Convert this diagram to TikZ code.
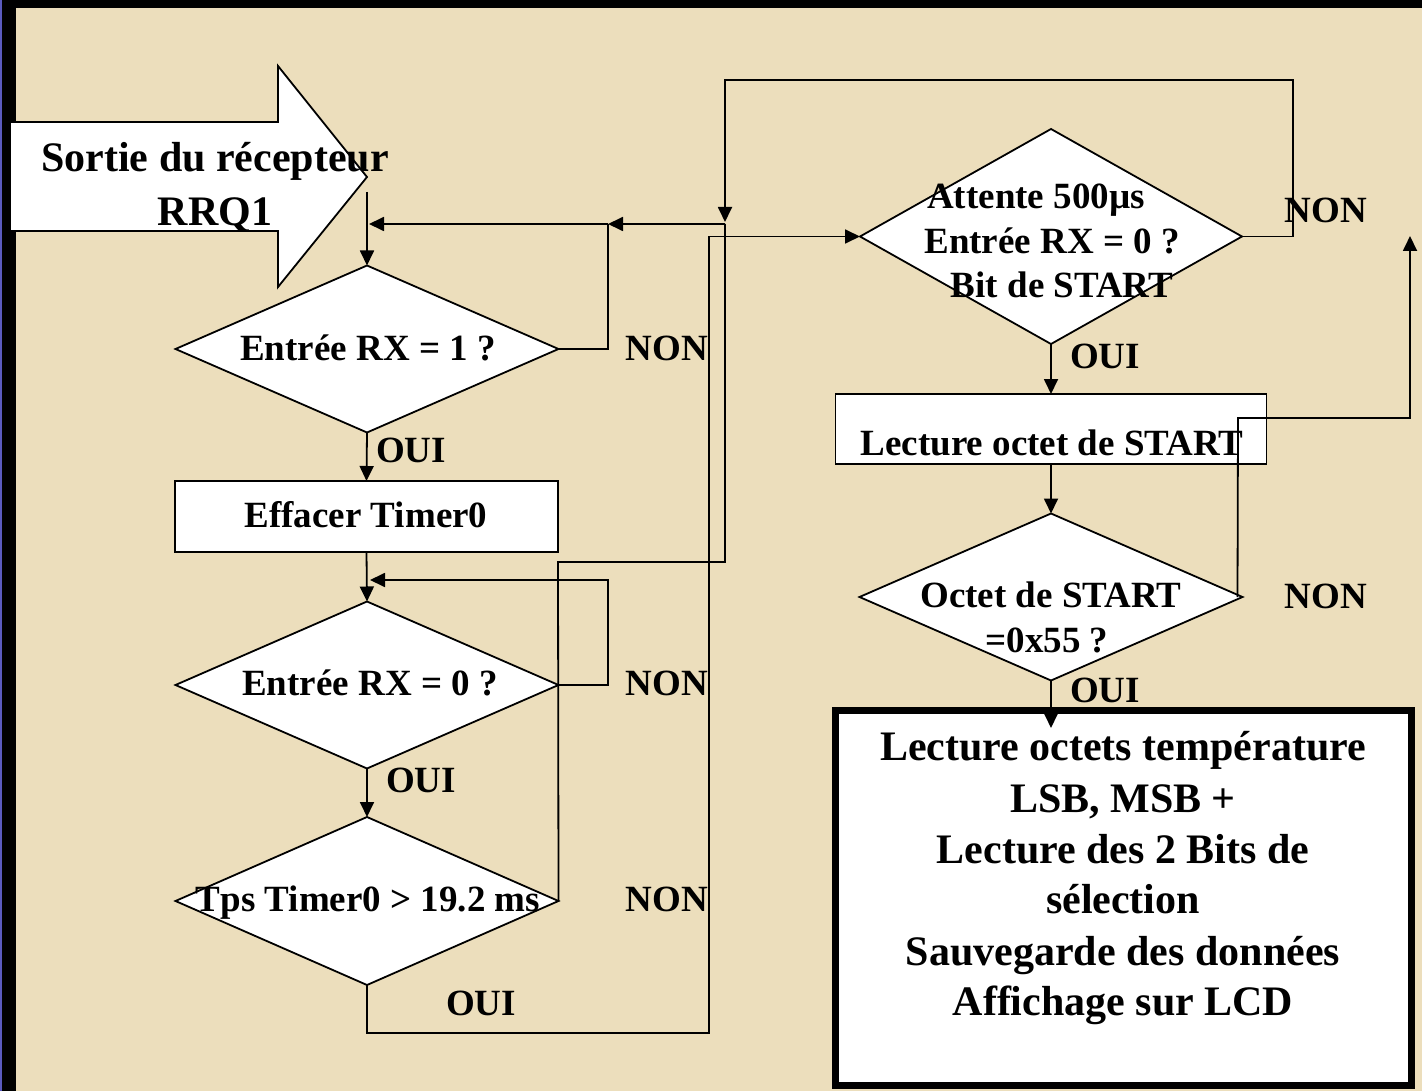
\documentclass[tikz,border=0pt]{standalone}
\usepackage{fontspec}
\setmainfont{Liberation Serif}
\usetikzlibrary{arrows.meta,shapes.geometric}
\definecolor{parch}{RGB}{236,222,188}
\definecolor{edgeblue}{RGB}{90,90,190}
\begin{document}
\begin{tikzpicture}[x=1pt,y=-1pt,
  dia/.style={diamond, draw, fill=white, line width=1.8pt, inner sep=0pt, outer sep=0pt},
  procbox/.style={rectangle, draw, fill=white, line width=1.8pt, inner sep=0pt, outer sep=0pt},
  txt/.style={font=\fontsize{37}{44}\selectfont\bfseries, inner sep=0pt, anchor=base},
  bigtxt/.style={font=\fontsize{42}{51}\selectfont\bfseries, inner sep=0pt, anchor=base},
  conn/.style={line width=1.8pt},
  arr/.style={conn, -{Triangle[length=15pt,width=14pt]}}]
% background and frame
\fill[parch] (0,0) rectangle (1422,1091);
\useasboundingbox (0,0) rectangle (1422,1091);
\fill[black] (0,0) rectangle (1422,8);
\fill[black] (0,0) rectangle (16,1091);
\fill[edgeblue] (0,0) rectangle (2,1091);
% input block arrow
\draw[fill=white, line width=1.8pt, line join=miter]
  (10,122) -- (278,122) -- (278,66) -- (367,177) -- (278,287) -- (278,231) -- (10,231) -- cycle;
% left column shapes
\node[dia, minimum width=383pt, minimum height=167pt] (d1) at (367,349) {};
\node[procbox, minimum width=383pt, minimum height=71pt] (e1) at (366.5,516.5) {};
\node[dia, minimum width=383pt, minimum height=167pt] (d2) at (367,685) {};
\node[dia, minimum width=383pt, minimum height=168pt] (d3) at (367,901) {};
% right column shapes
\node[dia, minimum width=382pt, minimum height=215pt] (d4) at (1051,236.5) {};
\node[procbox, minimum width=431pt, minimum height=70pt] (r2) at (1051,429) {};
\node[dia, minimum width=383pt, minimum height=167pt] (d5) at (1051,597) {};
\node[procbox, line width=7pt, minimum width=576pt, minimum height=375pt] (bb) at (1123,897.5) {};
% coordinates
\coordinate (s0) at (367,192);
\coordinate (j0) at (369,224);
\coordinate (j2) at (608,224);
\coordinate (j1) at (725,224);
\coordinate (bt) at (1051,728);
\coordinate (up) at (1410,236);
% connectors
\draw[arr] (s0) -- (d1.north);
\draw[conn] (d1.east) -| (j2);
\draw[arr] (j1) -- (j2);
\draw[arr] (j2) -- (j0);
\draw[arr] (d1.south) -- (e1.north);
\draw[arr] (e1.south) -- (d2.north);
\draw[arr] (d2.east) -- (608,685) -- (608,580) -- (370,580);
\draw[arr] (d2.south) -- (d3.north);
\draw[conn] (d3.east) -- (558,562) -- (725,562) -- (j1);
\draw[arr] (d3.south) -- (367,1033) -- (709,1033) |- (d4.west);
\draw[arr] (d4.east) -| (1293,80) -- (725,80) -- (725,222);
\draw[arr] (d4.south) -- (r2.north);
\draw[arr] (r2.south) -- (d5.north);
\draw[arr] ([xshift=-5pt]d5.east) -- (1238,418) -- (1410,418) -- (up);
\draw[arr] (d5.south) -- (bt);
% texts
\node[bigtxt] (a1) at (215,172) {Sortie du récepteur};
\node[bigtxt] (a2) at (215,226) {RRQ1};
\node[txt] (t1) at (368,360) {Entrée RX = 1 ?};
\node[txt] (t2) at (366,527) {Effacer Timer0};
\node[txt] (t3) at (370,695) {Entrée RX = 0 ?};
\node[txt] (t4) at (368,911) {Tps Timer0 > 19.2 ms};
\node[txt] (o1) at (411,462) {OUI};
\node[txt] (o2) at (421,792) {OUI};
\node[txt] (o3) at (481,1015) {OUI};
\node[txt] (n1) at (667,360) {NON};
\node[txt] (n2) at (667,695) {NON};
\node[txt] (n3) at (667,911) {NON};
\node[txt] (t5) at (1036,209) {Attente 500µs};
\node[txt] (t6) at (1052,254) {Entrée RX = 0 ?};
\node[txt] (t7) at (1062,298) {Bit de START};
\node[txt] (o4) at (1105,368) {OUI};
\node[txt] (n4) at (1326,223) {NON};
\node[txt] (t8) at (1052,455) {Lecture octet de START};
\node[txt] (t9) at (1051,607) {Octet de START};
\node[txt] (t10) at (1047,652) {=0x55 ?};
\node[txt] (n5) at (1326,608) {NON};
\node[txt] (o5) at (1105,702) {OUI};
\node[bigtxt] (b1) at (1123,760) {Lecture octets température};
\node[bigtxt] (b2) at (1123,812) {LSB, MSB +};
\node[bigtxt] (b3) at (1123,863) {Lecture des 2 Bits de};
\node[bigtxt] (b4) at (1123,913) {sélection};
\node[bigtxt] (b5) at (1123,965) {Sauvegarde des données};
\node[bigtxt] (b6) at (1123,1015) {Affichage sur LCD};
\end{tikzpicture}
\end{document}
